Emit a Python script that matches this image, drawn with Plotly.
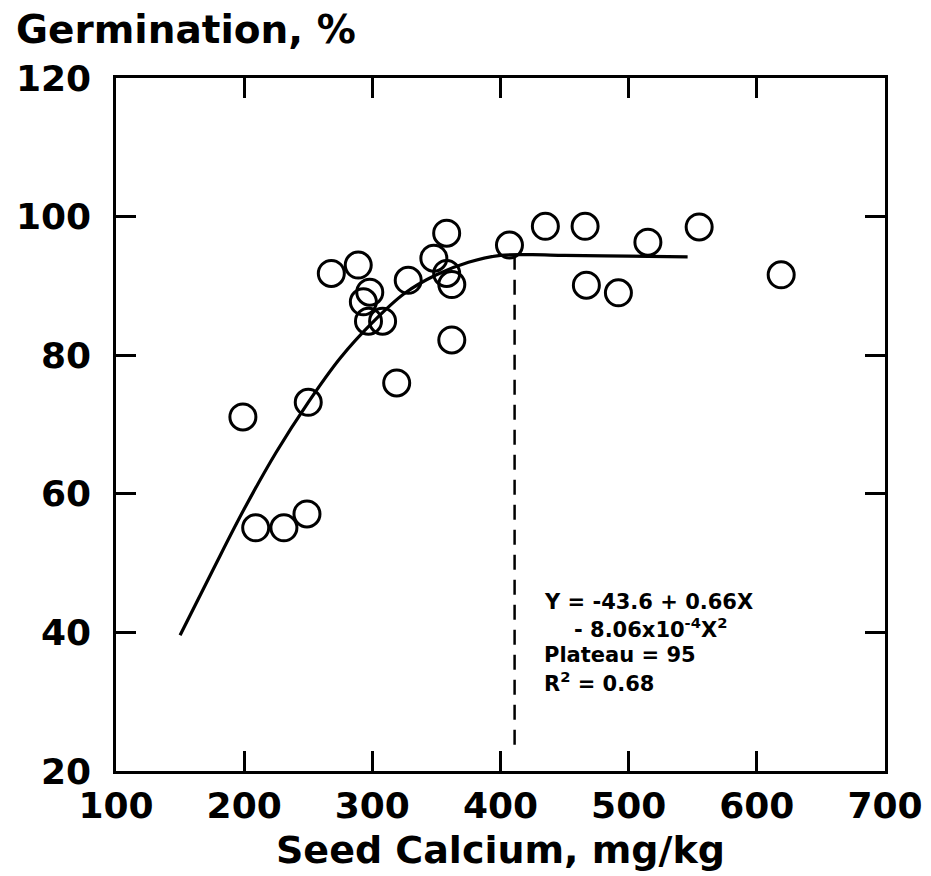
import plotly.graph_objects as go

# Observed data: seed calcium (mg/kg) vs germination (%)
calcium = [199, 209, 231, 249, 250, 268, 289, 293, 297, 298, 308, 319, 328,
           348, 358, 358, 362, 362, 407, 435, 466, 467, 492, 515, 555, 619]
germination = [71.1, 55.1, 55.1, 57.1, 73.2, 91.8, 93.0, 87.7, 84.9, 89.1, 84.9,
               76.0, 90.8, 94.0, 97.6, 91.8, 90.2, 82.2, 95.9, 98.6, 98.6, 90.1,
               89.0, 96.3, 98.5, 91.6]

# Fitted quadratic-plateau curve
fit_x = [150, 175, 200, 225, 250, 275, 300, 325, 350, 375, 400, 425, 450, 500, 546]
fit_y = [39.6, 48.8, 57.8, 66.0, 73.2, 79.6, 84.7, 88.9, 91.6, 93.4, 94.4, 94.5,
         94.4, 94.3, 94.2]

# Join point (dashed vertical line)
join_x = [411, 411]
join_y = [94.5, 22.7]

x_ticks = [100, 200, 300, 400, 500, 600, 700]
y_ticks = [20, 40, 60, 80, 100, 120]

FONT = "DejaVu Sans"
OFF = 8  # page body margin offset
L, T, W, H = 116 - OFF, 78 - OFF, 769, 693
FW, FH = 931 - OFF, 876 - OFF

fig = go.Figure()
fig.add_trace(go.Scatter(x=join_x, y=join_y, mode="lines",
                         line=dict(color="black", width=2.5, dash="15px,10px"),
                         showlegend=False, hoverinfo="skip"))
fig.add_trace(go.Scatter(x=fit_x, y=fit_y, mode="lines",
                         line=dict(color="black", width=3.2, shape="spline"),
                         showlegend=False))
fig.add_trace(go.Scatter(x=calcium, y=germination, mode="markers",
                         marker=dict(symbol="circle-open", size=26,
                                     color="black", line=dict(width=3, color="black")),
                         showlegend=False))

axis_common = dict(showline=True, linecolor="black", linewidth=2.5, mirror="ticks",
                   ticks="inside", ticklen=20, tickwidth=2.5, tickcolor="black",
                   showgrid=False, zeroline=False,
                   tickfont=dict(family=FONT, size=36, color="black", weight="bold"))

fig.update_xaxes(range=[100, 700], tickvals=x_ticks, ticktext=[str(v) for v in x_ticks],
                 ticklabelstandoff=1, automargin=False, **axis_common)
fig.update_yaxes(range=[20, 120], tickvals=y_ticks, ticktext=[str(v) for v in y_ticks],
                 ticklabelstandoff=15, automargin=False, **axis_common)


def to_paper(px, py):
    return (px - OFF - L) / W, (T + H - (py - OFF)) / H


ann_font = dict(family=FONT, size=21, color="black")
lines = [
    ("<b>Y = -43.6 + 0.66X</b>", 542, 602),
    ("<b>- 8.06x10<sup>-4</sup>X<sup>2</sup></b>", 572, 628),
    ("<b>Plateau = 95</b>", 542, 655),
    ("<b>R<sup>2</sup> = 0.68</b>", 542, 682),
]
for text, px, py in lines:
    xp, yp = to_paper(px, py)
    fig.add_annotation(text=text, xref="paper", yref="paper", x=xp, y=yp,
                       xanchor="left", yanchor="middle", showarrow=False, font=ann_font)

xp, yp = to_paper(14, 30)
fig.add_annotation(text="<b>Germination, %</b>", xref="paper", yref="paper",
                   x=xp, y=yp, xanchor="left", yanchor="middle",
                   showarrow=False, font=dict(family=FONT, size=39, color="black"))

xp, yp = to_paper(500, 850)
fig.add_annotation(text="<b>Seed Calcium, mg/kg</b>", xref="paper", yref="paper",
                   x=xp, y=yp, xanchor="center", yanchor="middle",
                   showarrow=False, font=dict(family=FONT, size=38, color="black"))

fig.update_layout(width=FW, height=FH,
                  margin=dict(l=L, r=FW - L - W, t=T, b=FH - T - H, autoexpand=False),
                  plot_bgcolor="white", paper_bgcolor="white")

fig.write_html("out.html")
